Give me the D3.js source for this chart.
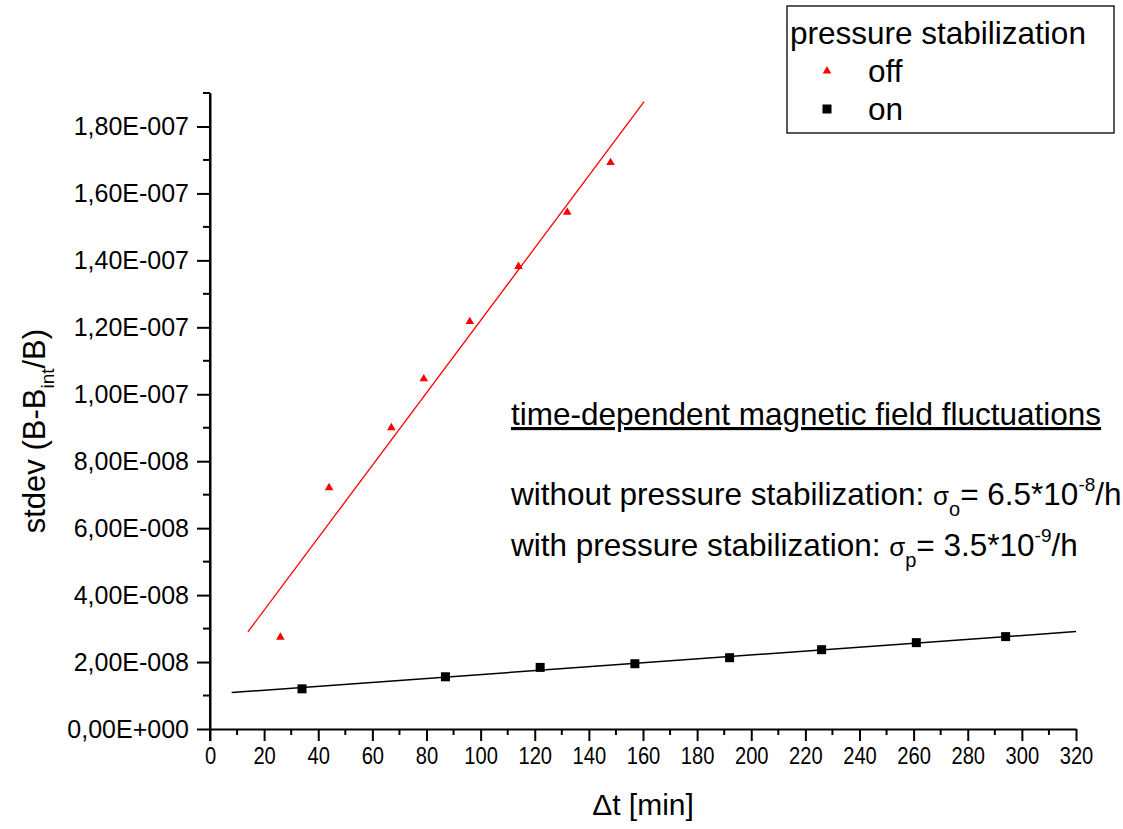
<!DOCTYPE html>
<html>
<head>
<meta charset="utf-8">
<script src="https://cdn.jsdelivr.net/npm/d3@7"></script>
<style>
  body { margin: 0; background: #fff; }
  text { font-family: "Liberation Sans", Arial, sans-serif; fill: #000; }
</style>
</head>
<body>
<script>
    // measured points, pressure stabilization off (red) and on (black)
    var offT = [26, 44, 67, 79, 96, 114, 132, 148];
    var offS = [2.74e-8, 7.21e-8, 9.0e-8, 1.046e-7, 1.217e-7, 1.382e-7, 1.544e-7, 1.692e-7];
    var onT = [34, 87, 122, 157, 192, 226, 261, 294];
    var onS = [1.20e-8, 1.56e-8, 1.84e-8, 1.95e-8, 2.13e-8, 2.37e-8, 2.58e-8, 2.76e-8];

    // linear fits, [start, end]
    var offFitT = [14, 160.4];
    var offFitS = [2.90e-8, 1.874e-7];
    var onFitT = [8, 320];
    var onFitS = [1.09e-8, 2.91e-8];

    var xTicks = d3.range(0, 321, 20);
    var yTicks = [0, 2e-8, 4e-8, 6e-8, 8e-8, 1e-7, 1.2e-7, 1.4e-7, 1.6e-7, 1.8e-7];
    var yLabels = ["0,00E+000", "2,00E-008", "4,00E-008", "6,00E-008", "8,00E-008",
                   "1,00E-007", "1,20E-007", "1,40E-007", "1,60E-007", "1,80E-007"];

    var margin = {top: 93, right: 47, bottom: 100, left: 210},
    width = 1123 - margin.left - margin.right,
    height = 829 - margin.top - margin.bottom;

    var x = d3.scaleLinear().domain([0, 320]).range([0, width]);
    var y = d3.scaleLinear().domain([0, 1.9e-7]).range([height, 0]);

    var svg = d3.select("body").append("svg")
      .attr("width", 1123)
      .attr("height", 829);
    var g = svg.append("g")
      .attr("transform", "translate(" + margin.left + "," + margin.top + ")");

    //fit lines
    var fitLine = d3.line()
      .x(function(d) { return x(d[0]); })
      .y(function(d) { return y(d[1]); });

    g.append("path")
      .datum(d3.zip(offFitT, offFitS))
      .attr("fill", "none")
      .attr("stroke", "#ff0000")
      .attr("stroke-width", 1.3)
      .attr("d", fitLine);
    g.append("path")
      .datum(d3.zip(onFitT, onFitS))
      .attr("fill", "none")
      .attr("stroke", "#000")
      .attr("stroke-width", 1.5)
      .attr("d", fitLine);

    //markers
    var tri = d3.symbol().type(d3.symbolTriangle).size(32);
    g.selectAll(".off")
      .data(d3.zip(offT, offS))
      .enter().append("path")
      .attr("class", "off")
      .attr("fill", "#ff0000")
      .attr("transform", function(d) { return "translate(" + x(d[0]) + "," + y(d[1]) + ")"; })
      .attr("d", tri);

    g.selectAll(".on")
      .data(d3.zip(onT, onS))
      .enter().append("rect")
      .attr("class", "on")
      .attr("fill", "#000")
      .attr("x", function(d) { return x(d[0]) - 4.5; })
      .attr("y", function(d) { return y(d[1]) - 4.5; })
      .attr("width", 9)
      .attr("height", 9);

    //add the X axis
    var xAxis = g.append("g")
      .attr("transform", "translate(0," + height + ")")
      .call(d3.axisBottom(x).tickValues(xTicks).tickSize(12).tickPadding(6).tickSizeOuter(0));
    xAxis.selectAll(".tick text").attr("font-size", 24).attr("dy", "0.71em")
      .attr("transform", "scale(0.84,1)");
    // minor x ticks
    xAxis.selectAll(".minor")
      .data(d3.range(10, 320, 20))
      .enter().append("line")
      .attr("x1", function(d) { return x(d); })
      .attr("x2", function(d) { return x(d); })
      .attr("y1", 0).attr("y2", 6)
      .attr("stroke", "#000").attr("stroke-width", 2);

    //add the Y axis
    var yAxis = g.append("g")
      .call(d3.axisLeft(y).tickValues(yTicks).tickSize(13).tickPadding(8).tickSizeOuter(0)
        .tickFormat(function(d, i) { return yLabels[i]; }));
    yAxis.selectAll(".tick text").attr("font-size", 25);
    yAxis.selectAll(".minor")
      .data(d3.range(1e-8, 1.95e-7, 2e-8))
      .enter().append("line")
      .attr("x1", -7).attr("x2", 0)
      .attr("y1", function(d) { return y(d); })
      .attr("y2", function(d) { return y(d); })
      .attr("stroke", "#000").attr("stroke-width", 2);

    svg.selectAll(".domain, .tick line").attr("stroke", "#000").attr("stroke-width", 2);
    svg.selectAll(".tick text").attr("fill", "#000").style("font-family", "Liberation Sans, Arial, sans-serif");

    // y axis line runs down past the x axis
    g.append("line")
      .attr("x1", 0).attr("x2", 0)
      .attr("y1", 0).attr("y2", height + 12)
      .attr("stroke", "#000").attr("stroke-width", 2);

    //axis titles
    svg.append("text")
      .attr("x", margin.left + x(160))
      .attr("y", 815)
      .attr("text-anchor", "middle")
      .attr("font-size", 30)
      .text("\u0394t [min]");

    var yt = svg.append("text")
      .attr("transform", "translate(45," + (margin.top + y(8.9e-8)) + ") rotate(-90)")
      .attr("text-anchor", "middle")
      .attr("font-size", 31);
    yt.append("tspan").text("stdev (B-B");
    yt.append("tspan").attr("font-size", 19).attr("dy", 9).text("int");
    yt.append("tspan").attr("dy", -9).text("/B)");

    //annotation
    svg.append("text")
      .attr("x", 511).attr("y", 425)
      .attr("font-size", 31.5)
      .attr("text-decoration", "underline")
      .text("time-dependent magnetic field fluctuations");

    function sigmaLine(yy, pre, sub, val, exp) {
      var t = svg.append("text").attr("x", 511).attr("y", yy).attr("font-size", 31.5);
      t.append("tspan").text(pre);
      t.append("tspan").attr("font-size", 26).text("\u03c3");
      t.append("tspan").attr("font-size", 20).attr("dy", 11).text(sub);
      t.append("tspan").attr("dy", -11).text("= " + val + "*10");
      t.append("tspan").attr("font-size", 19).attr("dy", -14).text(exp);
      t.append("tspan").attr("dy", 14).text("/h");
    }
    sigmaLine(505, "without pressure stabilization: ", "o", "6.5", "-8");
    sigmaLine(556, "with pressure stabilization: ", "p", "3.5", "-9");

    //legend
    svg.append("rect")
      .attr("x", 787).attr("y", 6)
      .attr("width", 327).attr("height", 127)
      .attr("fill", "#fff").attr("stroke", "#000").attr("stroke-width", 1.3);
    svg.append("text").attr("x", 790).attr("y", 44).attr("font-size", 31.5).text("pressure stabilization");
    svg.append("path")
      .attr("transform", "translate(827,71)")
      .attr("fill", "#ff0000")
      .attr("d", tri);
    svg.append("rect")
      .attr("x", 822.5).attr("y", 104.5).attr("width", 9).attr("height", 9)
      .attr("fill", "#000");
    svg.append("text").attr("x", 868).attr("y", 82).attr("font-size", 31.5).text("off");
    svg.append("text").attr("x", 868).attr("y", 120).attr("font-size", 31.5).text("on");
</script>
</body>
</html>
